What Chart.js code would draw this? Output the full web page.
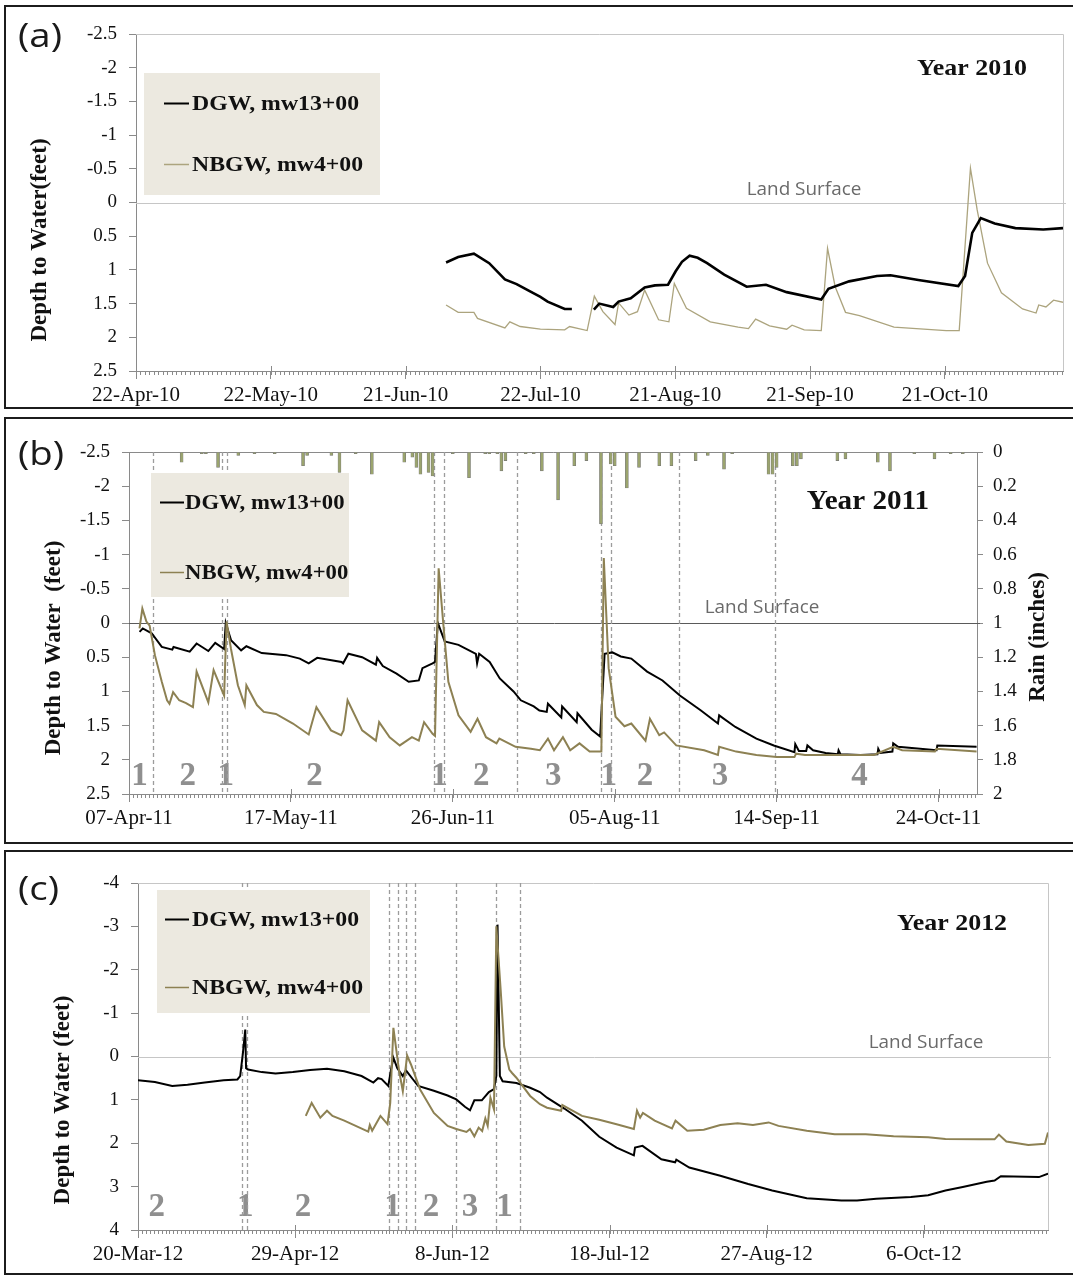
<!DOCTYPE html>
<html>
<head>
<meta charset="utf-8">
<script src="https://cdn.jsdelivr.net/npm/chart.js@4.4.1/dist/chart.umd.min.js"></script>
<style>
  body { margin: 0; background: #fff; width: 1073px; height: 1275px; position: relative; overflow: hidden; }
  .box { position: absolute; left: 4px; width: 1090px; border: 2px solid #1c1c1c; }
  canvas { position: absolute; left: 0; }
</style>
</head>
<body>
<div class="box" style="top:5px;height:400px"></div>
<div class="box" style="top:417px;height:423px"></div>
<div class="box" style="top:850px;height:421px"></div>
<canvas id="chartA" width="1073" height="410" style="top:0"></canvas>
<canvas id="chartB" width="1073" height="436" style="top:412px"></canvas>
<canvas id="chartC" width="1073" height="427" style="top:848px"></canvas>
<script>
// ---- 2010 (days counted from 22-Apr-10) ----
const datesA = ['22-Apr-10', '22-May-10', '21-Jun-10', '22-Jul-10', '21-Aug-10', '21-Sep-10', '21-Oct-10'];
const depthTicksA = [-2.5, -2, -1.5, -1, -0.5, 0, 0.5, 1, 1.5, 2, 2.5];
const dgwDaysA = [69, 71.7, 75.2, 78.6, 82.1, 84.7, 87.7, 90, 91.6, 95.4, 97, 99, 101.9, 103.1, 106.2, 107.4, 110.1, 113.2, 115.5, 118.4, 120.1, 121.5, 123.2, 125, 127.1, 130.9, 135.9, 140.2, 144.8, 152.5, 154.1, 158.7, 164.9, 167.9, 174.1, 183, 184.5, 186.1, 188, 191.1, 195.7, 201.9, 206.3];
const dgwA = [0.89, 0.81, 0.76, 0.90, 1.14, 1.21, 1.32, 1.40, 1.47, 1.58, 1.58, null, 1.59, 1.50, 1.55, 1.47, 1.42, 1.26, 1.23, 1.22, 1.02, 0.88, 0.79, 0.82, 0.90, 1.07, 1.25, 1.22, 1.33, 1.44, 1.28, 1.17, 1.09, 1.08, 1.15, 1.24, 1.09, 0.45, 0.23, 0.31, 0.38, 0.40, 0.38];
const nbgwDaysA = [69, 71.7, 75.2, 76, 82.1, 83.2, 85.5, 90, 95.4, 96.5, 100.4, 102, 103.9, 106.6, 107.4, 109.7, 111.6, 113.2, 116.3, 118.6, 119.8, 122.5, 127.8, 134, 136.3, 137.9, 141, 144.8, 146, 148.7, 152.5, 153.9, 155.6, 157.9, 161, 168.7, 180.3, 183.2, 185.7, 187.2, 189.5, 192.6, 197.3, 200.3, 200.9, 202.5, 204.2, 206.3];
const nbgwA = [1.52, 1.63, 1.63, 1.72, 1.86, 1.77, 1.84, 1.88, 1.89, 1.84, 1.90, 1.39, 1.62, 1.81, 1.49, 1.67, 1.62, 1.30, 1.74, 1.77, 1.20, 1.57, 1.77, 1.85, 1.87, 1.73, 1.83, 1.88, 1.82, 1.89, 1.90, 0.68, 1.25, 1.63, 1.68, 1.85, 1.90, 1.90, -0.51, 0.11, 0.90, 1.34, 1.58, 1.64, 1.52, 1.55, 1.45, 1.48];

// ---- 2011 (days counted from 07-Apr-11) ----
const datesB = ['07-Apr-11', '17-May-11', '26-Jun-11', '05-Aug-11', '14-Sep-11', '24-Oct-11'];
const depthTicksB = [-2.5, -2, -1.5, -1, -0.5, 0, 0.5, 1, 1.5, 2, 2.5];
const rainTicksB = [0, 0.2, 0.4, 0.6, 0.8, 1, 1.2, 1.4, 1.6, 1.8, 2];
const dgwDaysB = [2.6, 3.4, 5.6, 8.1, 10.7, 11, 15, 16.7, 19.6, 21.3, 23.5, 23.9, 25.2, 27.7, 29, 32.8, 38.8, 42.2, 44.4, 46.5, 52.5, 52.9, 54.2, 57.6, 61, 61.3, 62.7, 66.1, 69.1, 71.6, 72.5, 75, 75.6, 76.3, 78, 81.4, 85.7, 86, 86.5, 89.1, 91.6, 95, 96.8, 100, 101.4, 103.2, 103.5, 106.8, 107, 110.6, 110.8, 114.3, 116.4, 117.5, 119.4, 121.5, 124.1, 128, 131.8, 136.1, 141.3, 145.5, 145.8, 149.8, 155, 159.3, 164.4, 164.6, 165.5, 167.3, 167.6, 169, 172.1, 175.1, 175.3, 175.8, 180.7, 184.9, 185.1, 185.6, 188.6, 188.8, 190, 199.5, 199.7, 209.4];
const dgwB = [0.13, 0.08, 0.15, 0.35, 0.39, 0.35, 0.42, 0.30, 0.41, 0.29, 0.38, 0.00, 0.25, 0.40, 0.34, 0.44, 0.47, 0.52, 0.59, 0.51, 0.57, 0.59, 0.45, 0.50, 0.61, 0.51, 0.63, 0.74, 0.86, 0.84, 0.66, 0.59, 0.57, 0.00, 0.27, 0.32, 0.45, 0.59, 0.45, 0.57, 0.81, 1.00, 1.13, 1.22, 1.28, 1.30, 1.18, 1.38, 1.22, 1.45, 1.32, 1.56, 1.66, 0.45, 0.43, 0.49, 0.52, 0.71, 0.84, 1.06, 1.28, 1.47, 1.35, 1.52, 1.69, 1.79, 1.89, 1.77, 1.87, 1.87, 1.79, 1.86, 1.90, 1.92, 1.86, 1.92, 1.93, 1.92, 1.84, 1.90, 1.88, 1.76, 1.81, 1.86, 1.79, 1.81];
const nbgwDaysB = [2.6, 3.3, 4.3, 5.1, 6.4, 8.1, 9.4, 10, 10.9, 12.4, 14.1, 15.8, 16.7, 19.6, 20.9, 23.5, 24.1, 25.2, 26.9, 28.6, 29, 31.6, 33.3, 36.3, 40.5, 44.4, 46.3, 49.9, 52.4, 53, 54, 57.6, 61, 61.8, 64.4, 66.9, 69.9, 71.6, 72.9, 75, 75.6, 76.5, 77.6, 78.9, 81.4, 84.4, 86.1, 88.2, 90.8, 91.5, 95.5, 99.3, 101.5, 103.5, 105, 107.2, 109, 111.3, 113.8, 116.7, 117.3, 118.5, 120.2, 122.4, 124.1, 127.6, 128.7, 131, 132.2, 135.2, 142.1, 145.5, 145.8, 150, 155, 160, 164.4, 164.8, 167, 176.4, 184, 188.8, 191, 199.1, 199.5, 209.4];
const nbgwB = [0.08, -0.21, -0.02, 0.04, 0.47, 0.86, 1.13, 1.18, 1.01, 1.13, 1.17, 1.23, 0.71, 1.16, 0.69, 1.06, -0.02, 0.38, 0.91, 1.20, 0.91, 1.20, 1.30, 1.33, 1.47, 1.63, 1.23, 1.57, 1.64, 1.57, 1.13, 1.57, 1.72, 1.45, 1.67, 1.79, 1.67, 1.72, 1.45, 1.62, 1.65, -0.80, -0.02, 0.86, 1.35, 1.59, 1.40, 1.67, 1.76, 1.69, 1.81, 1.84, 1.86, 1.69, 1.86, 1.67, 1.86, 1.76, 1.88, 1.88, -0.95, 0.66, 1.37, 1.51, 1.47, 1.72, 1.40, 1.64, 1.60, 1.79, 1.86, 1.93, 1.81, 1.88, 1.93, 1.96, 1.96, 1.91, 1.93, 1.93, 1.93, 1.81, 1.86, 1.88, 1.84, 1.88];
const rainDaysB = [13, 18, 19, 22, 27, 31, 36, 43, 44, 50, 52, 56, 60, 68, 70, 71, 72, 74, 75, 80, 84, 88, 89, 91, 92, 93, 98, 100, 102, 106, 110, 113, 116.6, 119, 120, 123, 126, 131, 134, 140, 143, 147, 149, 158, 159, 160, 164, 165, 166, 175, 177, 185, 188, 194, 199, 203, 206];
const rainB = [0.06, 0.01, 0.01, 0.09, 0.02, 0.01, 0.01, 0.08, 0.02, 0.02, 0.12, 0.01, 0.13, 0.06, 0.03, 0.09, 0.13, 0.12, 0.14, 0.01, 0.15, 0.01, 0.01, 0.01, 0.11, 0.05, 0.01, 0.01, 0.11, 0.28, 0.08, 0.05, 0.42, 0.07, 0.08, 0.21, 0.09, 0.08, 0.08, 0.05, 0.02, 0.10, 0.01, 0.13, 0.13, 0.09, 0.08, 0.08, 0.04, 0.05, 0.04, 0.06, 0.11, 0.01, 0.04, 0.01, 0.01];
const splitDaysB = [6.0, 22.9, 24.3, 75.3, 77.8, 95.8, 116.7, 119.1, 136, 159.7];
const phaseDaysB = [2.6, 14.5, 23.9, 45.8, 76.7, 87, 104.8, 118.5, 127.5, 146, 180.5];
const phaseNumsB = ['1', '2', '1', '2', '1', '2', '3', '1', '2', '3', '4'];

// ---- 2012 (days counted from 20-Mar-12) ----
const datesC = ['20-Mar-12', '29-Apr-12', '8-Jun-12', '18-Jul-12', '27-Aug-12', '6-Oct-12'];
const depthTicksC = [-4, -3, -2, -1, 0, 1, 2, 3, 4];
const dgwDaysC = [0, 4.3, 8.7, 12.6, 17, 21.8, 25.3, 26, 26.7, 27.3, 27.5, 28, 31.5, 35, 39.4, 43.8, 48.1, 52.5, 56.9, 59.9, 61.1, 62, 63.7, 64.4, 65, 66, 67.4, 68.2, 70, 71.3, 75.3, 78.8, 81, 83.2, 84.5, 85.6, 87.5, 89.3, 90.6, 91.2, 91.5, 92.1, 92.8, 96.3, 99.8, 102.3, 104.1, 108.5, 113, 117.4, 121.8, 126.2, 126.5, 128.4, 133.2, 136.7, 137, 140.3, 148.2, 155.3, 161.4, 170.2, 179, 183, 187.9, 196.7, 201.1, 205.5, 209.9, 216, 218, 219.6, 229.3, 231.6];
const dgwC = [0.55, 0.59, 0.68, 0.65, 0.60, 0.55, 0.53, 0.45, -0.08, -0.62, 0.27, 0.30, 0.36, 0.39, 0.36, 0.31, 0.28, 0.34, 0.45, 0.60, 0.50, 0.52, 0.68, 0.30, 0.03, 0.27, 0.45, 0.32, 0.53, 0.68, 0.79, 0.90, 0.99, 1.16, 1.24, 1.01, 1.01, 0.82, 0.75, 0.45, -3.04, 0.45, 0.57, 0.61, 0.72, 0.82, 0.95, 1.20, 1.48, 1.85, 2.10, 2.28, 2.10, 2.06, 2.37, 2.44, 2.38, 2.56, 2.75, 2.94, 3.09, 3.27, 3.32, 3.32, 3.28, 3.24, 3.20, 3.09, 3.01, 2.89, 2.86, 2.76, 2.78, 2.70];
const nbgwDaysC = [42.7, 44.2, 46.4, 48.1, 49.5, 52.5, 58.6, 59, 59.6, 61.7, 63.5, 64.2, 65, 66.4, 67.4, 68.5, 69.5, 71.8, 75.3, 78.8, 81, 83.6, 84.5, 85.6, 86.7, 87.6, 88.4, 89, 89.7, 90.6, 91.2, 92.3, 93.2, 94.5, 95.2, 96.3, 99.8, 102.3, 104.1, 107.7, 108, 113, 117.4, 121.8, 126.2, 127, 127.8, 128.5, 131.5, 135.9, 136.8, 139.8, 144, 148.2, 152.6, 156.5, 160.5, 163, 170.2, 177.3, 185.2, 192.3, 201.1, 205.5, 214.3, 218, 219.1, 221, 226.6, 230.8, 231.6];
const nbgwC = [1.37, 1.07, 1.41, 1.25, 1.37, 1.48, 1.73, 1.58, 1.71, 1.37, 1.56, 1.07, -0.66, 0.30, 0.80, -0.02, 0.19, 0.76, 1.30, 1.60, 1.67, 1.74, 1.67, 1.84, 1.64, 1.72, 1.43, 1.60, 0.95, 1.22, -3.00, -1.54, -0.23, 0.30, 0.38, 0.49, 0.91, 1.10, 1.18, 1.25, 1.12, 1.37, 1.46, 1.56, 1.67, 1.25, 1.41, 1.30, 1.48, 1.66, 1.48, 1.71, 1.69, 1.58, 1.54, 1.58, 1.52, 1.60, 1.71, 1.79, 1.79, 1.84, 1.86, 1.90, 1.91, 1.91, 1.80, 1.96, 2.04, 2.01, 1.75];
const splitDaysC = [26.4, 27.7, 63.9, 66.1, 68.2, 70.5, 80.9, 91.1, 97.1];
const phaseDaysC = [4.8, 27.3, 42, 64.8, 74.6, 84.5, 93.3];
const phaseNumsC = ['2', '1', '2', '1', '2', '3', '1'];

const SERIF = '"Liberation Serif", "Times New Roman", serif';
const SANS = '"Open Sans", "Noto Sans", sans-serif';
const AXIS = '#8a8a8a';

function pts(days, vals) {
    return days.map((d, i) => ({x: d, y: vals[i]}));
}

function drawText(ctx, txt, x, y, font, color, opt) {
    opt = opt || {};
    ctx.save();
    ctx.translate(x, y);
    if (opt.rot) ctx.rotate(opt.rot);
    ctx.scale(opt.sx || 1, 1);
    ctx.font = font;
    ctx.fillStyle = color;
    ctx.textAlign = opt.align || 'center';
    ctx.textBaseline = 'middle';
    ctx.fillText(txt, 0, 0);
    ctx.restore();
}

// frame, land surface line, phase numbers, dashed split lines, daily ticks, then texts and legend
const decor = {
    id: 'decor',
    beforeDatasetsDraw(chart, args, o) {
        const {ctx, chartArea: a} = chart;
        const x = chart.scales.x, y = chart.scales.y;
        ctx.save();
        ctx.lineWidth = 1;
        ctx.strokeStyle = o.frameColor;
        ctx.beginPath();
        ctx.moveTo(a.left, a.top + 0.5);
        ctx.lineTo(a.right + 0.5, a.top + 0.5);
        ctx.lineTo(a.right + 0.5, a.bottom);
        ctx.stroke();

        const y0 = Math.round(y.getPixelForValue(0)) + 0.5;
        ctx.strokeStyle = o.landColor;
        ctx.beginPath();
        ctx.moveTo(a.left, y0);
        ctx.lineTo(a.right + 3, y0);
        ctx.stroke();

        (o.phaseDays || []).forEach((d, i) => {
            drawText(ctx, o.phaseNums[i], x.getPixelForValue(d), y.getPixelForValue(o.phaseLevel),
                'bold 33px ' + SERIF, '#8f8f8f');
        });

        ctx.setLineDash([4, 3]);
        ctx.strokeStyle = '#9c9c9c';
        ctx.lineWidth = 1.3;
        (o.splitDays || []).forEach(d => {
            const px = Math.round(x.getPixelForValue(d)) + 0.5;
            ctx.beginPath();
            ctx.moveTo(px, a.top);
            ctx.lineTo(px, a.bottom);
            ctx.stroke();
        });
        ctx.setLineDash([]);

        ctx.strokeStyle = AXIS;
        ctx.lineWidth = 1;
        ctx.beginPath();
        for (let d = 0; d <= x.max; d++) {
            const px = Math.round(x.getPixelForValue(d)) + 0.5;
            ctx.moveTo(px, a.bottom);
            ctx.lineTo(px, a.bottom + 4);
        }
        x.ticks.forEach(t => {
            const px = Math.round(x.getPixelForValue(t.value)) + 0.5;
            ctx.moveTo(px, a.bottom - 5);
            ctx.lineTo(px, a.bottom);
        });
        ctx.stroke();
        ctx.restore();
    },
    afterDraw(chart, args, o) {
        const ctx = chart.ctx;
        drawText(ctx, o.letter, 18, o.letterY, '32px ' + SANS, '#1a1a1a', {align: 'left', sx: 1.2});
        drawText(ctx, o.year[0], o.year[1], o.year[2], 'bold ' + o.year[3] + 'px ' + SERIF, '#111', {sx: 1.08});
        drawText(ctx, 'Land Surface', o.land[0], o.land[1], '18px ' + SANS, '#6a6a6a', {sx: 1.05});
        drawText(ctx, o.yTitle[0], o.yTitle[1], o.yTitle[2], 'bold 23px ' + SERIF, '#111', {rot: -Math.PI / 2});
        if (o.rTitle) {
            drawText(ctx, o.rTitle[0], o.rTitle[1], o.rTitle[2], 'bold 23px ' + SERIF, '#111', {rot: -Math.PI / 2});
        }

        const L = o.legend;
        ctx.save();
        ctx.fillStyle = '#ece9e0';
        ctx.fillRect(L.x, L.y, L.w, L.h);
        chart.data.datasets.filter(ds => ds.type === 'line').forEach((ds, i) => {
            const ry = Math.round(L.rows[i]) + 0.5;
            ctx.strokeStyle = ds.borderColor;
            ctx.lineWidth = i === 0 ? 2 : 1.5;
            ctx.beginPath();
            ctx.moveTo(L.lineX[0], ry);
            ctx.lineTo(L.lineX[1], ry);
            ctx.stroke();
            drawText(ctx, ds.label, L.textX, ry + 1, 'bold ' + L.size + 'px ' + SERIF, '#111', {align: 'left', sx: 1.08});
        });
        ctx.restore();
    }
};

function dateAxis(labels, step, max) {
    return {
        type: 'linear', min: 0, max: max, offset: false,
        afterBuildTicks: s => { s.ticks = labels.map((t, i) => ({value: i * step})); },
        afterFit: s => { s.height = 36; },
        ticks: {
            autoSkip: false, maxRotation: 0, padding: 4, color: '#111',
            font: {family: SERIF, size: 21},
            callback: (v, i) => labels[i]
        },
        grid: {drawOnChartArea: false, offset: false, tickLength: 8, tickColor: AXIS},
        border: {color: AXIS}
    };
}

function depthAxis(ticks) {
    return {
        type: 'linear', reverse: true, min: ticks[0], max: ticks[ticks.length - 1],
        afterBuildTicks: s => { s.ticks = ticks.map(v => ({value: v})); },
        afterFit: s => { s.width = 60; },
        ticks: {padding: 12, color: '#111', font: {family: SERIF, size: 19}, callback: v => String(v)},
        grid: {drawOnChartArea: false, tickLength: 7, tickColor: AXIS},
        border: {color: AXIS}
    };
}

function lineSet(label, days, vals, color, width, order) {
    return {
        type: 'line', label: label, data: pts(days, vals), borderColor: color,
        borderWidth: width, pointRadius: 0, tension: 0, spanGaps: false, order: order
    };
}

const common = {
    responsive: false,
    animation: false,
    events: [],
    plugins: {legend: {display: false}, tooltip: {enabled: false}}
};

new Chart(document.getElementById('chartA'), {
    type: 'line',
    data: {
        datasets: [
            lineSet('DGW, mw13+00', dgwDaysA, dgwA, '#000000', 2.6, 0),
            lineSet('NBGW, mw4+00', nbgwDaysA, nbgwA, '#aca47e', 1.3, 1)
        ]
    },
    options: {
        ...common,
        layout: {padding: {left: 76, right: 10, top: 34, bottom: 3}},
        scales: {x: dateAxis(datesA, 30, 206.3), y: depthAxis(depthTicksA)},
        plugins: {
            ...common.plugins,
            decor: {
                frameColor: '#c6c6c6', landColor: '#c6c6c6',
                letter: '(a)', letterY: 38,
                year: ['Year 2010', 972, 69, 24],
                land: [804, 190],
                yTitle: ['Depth to Water(feet)', 40, 240],
                legend: {x: 144, y: 73, w: 236, h: 122, rows: [103, 164], lineX: [164, 189], textX: 192, size: 22}
            }
        }
    },
    plugins: [decor]
});

new Chart(document.getElementById('chartB'), {
    type: 'line',
    data: {
        datasets: [
            lineSet('DGW, mw13+00', dgwDaysB, dgwB, '#000000', 2, 1),
            lineSet('NBGW, mw4+00', nbgwDaysB, nbgwB, '#8d8153', 2, 0),
            {
                type: 'bar', label: 'Rain', yAxisID: 'rain', data: pts(rainDaysB, rainB),
                backgroundColor: '#9ba46e', borderColor: '#777777', borderWidth: 0.6,
                barThickness: 3, grouped: false, order: 2
            }
        ]
    },
    options: {
        ...common,
        layout: {padding: {left: 69, right: 16, top: 40, bottom: 18}},
        scales: {
            x: dateAxis(datesB, 40, 209.5),
            y: depthAxis(depthTicksB),
            rain: {
                type: 'linear', position: 'right', reverse: true, min: 0, max: 2,
                afterBuildTicks: s => { s.ticks = rainTicksB.map(v => ({value: v})); },
                afterFit: s => { s.width = 80; },
                ticks: {padding: 10, color: '#111', font: {family: SERIF, size: 19}, callback: v => String(+v.toFixed(1))},
                grid: {drawOnChartArea: false, tickLength: 6, tickColor: AXIS},
                border: {color: AXIS}
            }
        },
        plugins: {
            ...common.plugins,
            decor: {
                frameColor: AXIS, landColor: '#5a5a5a',
                letter: '(b)', letterY: 44,
                year: ['Year 2011', 868, 90, 27],
                land: [762, 196],
                yTitle: ['Depth to Water  (feet)', 54, 236],
                rTitle: ['Rain (inches)', 1038, 225],
                splitDays: splitDaysB, phaseDays: phaseDaysB, phaseNums: phaseNumsB, phaseLevel: 2.24,
                legend: {x: 151, y: 61, w: 198, h: 124, rows: [90, 160], lineX: [160, 184], textX: 185, size: 21}
            }
        }
    },
    plugins: [decor]
});

new Chart(document.getElementById('chartC'), {
    type: 'line',
    data: {
        datasets: [
            lineSet('DGW, mw13+00', dgwDaysC, dgwC, '#000000', 2, 1),
            lineSet('NBGW, mw4+00', nbgwDaysC, nbgwC, '#8d8153', 2, 0)
        ]
    },
    options: {
        ...common,
        layout: {padding: {left: 78, right: 25, top: 35, bottom: 9}},
        scales: {x: dateAxis(datesC, 40, 231.6), y: depthAxis(depthTicksC)},
        plugins: {
            ...common.plugins,
            decor: {
                frameColor: '#c6c6c6', landColor: '#c6c6c6',
                letter: '(c)', letterY: 43,
                year: ['Year 2012', 952, 76, 24],
                land: [926, 195],
                yTitle: ['Depth to Water (feet)', 63, 252],
                splitDays: splitDaysC, phaseDays: phaseDaysC, phaseNums: phaseNumsC, phaseLevel: 3.48,
                legend: {x: 157, y: 42, w: 213, h: 123, rows: [71, 139], lineX: [165, 189], textX: 192, size: 22}
            }
        }
    },
    plugins: [decor]
});
</script>
</body>
</html>
